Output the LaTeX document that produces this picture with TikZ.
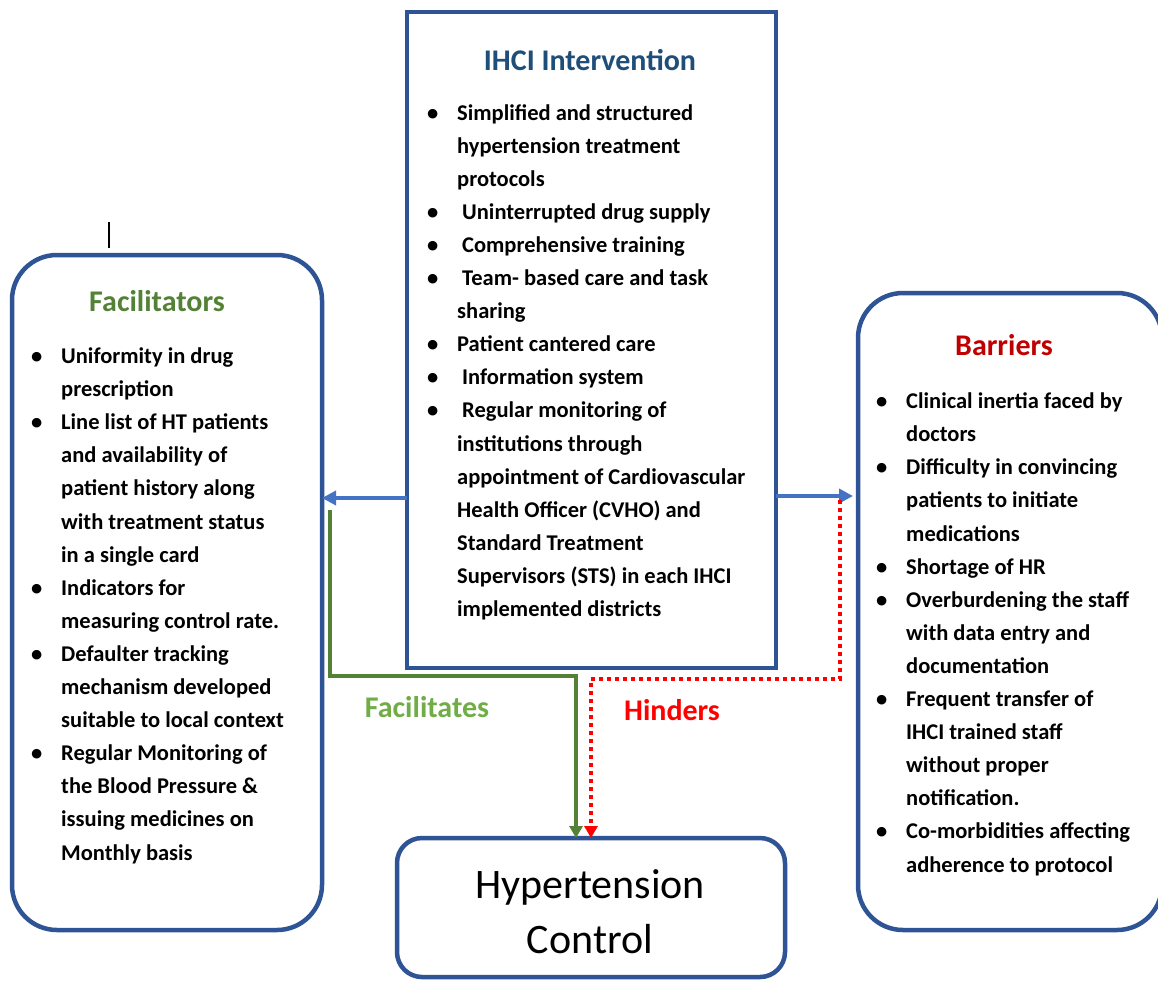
\documentclass[tikz,border=0pt]{standalone}
\usepackage{fontspec}
\setmainfont{Carlito}
\usetikzlibrary{arrows.meta,calc}
\definecolor{boxblue}{HTML}{2F5496}
\definecolor{arrblue}{HTML}{4472C4}
\definecolor{titleblue}{HTML}{1F4E79}
\definecolor{dgreen}{HTML}{538135}
\definecolor{lgreen}{HTML}{70AD47}
\definecolor{dred}{HTML}{C00000}
\definecolor{bred}{HTML}{FF0000}
\newcommand\bl{\makebox[30pt][l]{\textbullet}}
\newcommand\ind{\hspace*{30pt}}
\newcommand\lsp{\hspace*{5pt}}
\tikzset{
  frame/.style={draw=boxblue, line width=4.5pt, outer sep=0pt, inner sep=0pt},
  listtxt/.style={font=\bfseries\fontsize{22.5}{33.1}\selectfont, align=left, anchor=base west, inner sep=0pt},
  ttl/.style={font=\bfseries\fontsize{30}{34}\selectfont, inner sep=0pt},
  bluearr/.style={draw=arrblue, line width=3.5pt, -{Triangle[length=14pt,width=14pt]}},
  grnarr/.style={draw=dgreen, line width=3.5pt, -{Triangle[length=12pt,width=13pt]}},
  redarr/.style={draw=bred, line width=4pt, dash pattern=on 4pt off 4pt, -{Triangle[length=12pt,width=13pt]}},
}
\begin{document}
\begin{tikzpicture}[x=1pt,y=-1pt]
\clip (0,0) rectangle (1158,980);
\fill[white] (0,0) rectangle (1158,980);
% boxes
\node[frame, minimum width=369pt, minimum height=656pt] (top) at (591.5,340) {};
\node[frame, rounded corners=45pt, minimum width=310pt, minimum height=675pt] (lft) at (167,592.5) {};
\node[frame, rounded corners=45pt, minimum width=304pt, minimum height=637pt] (rgt) at (1010,611.5) {};
\node[frame, rounded corners=25pt, minimum width=388pt, minimum height=139pt] (bot) at (591,907.5) {};
% titles
\node[ttl, text=titleblue] (ttop) at (590,60) {IHCI Intervention};
\node[ttl, text=dgreen] (tlft) at (157,301) {Facilitators};
\node[ttl, text=dred] (trgt) at (1004,345) {Barriers};
% lists (anchor is the baseline of the last line)
\node[listtxt] (ltop) at (427,616.5) {%
\bl Simplified and structured\\
\ind hypertension treatment\\
\ind protocols\\
\bl\lsp Uninterrupted drug supply\\
\bl\lsp Comprehensive training\\
\bl\lsp Team- based care and task\\
\ind sharing\\
\bl Patient cantered care\\
\bl\lsp Information system\\
\bl\lsp Regular monitoring of\\
\ind institutions through\\
\ind appointment of Cardiovascular\\
\ind Health Officer (CVHO) and\\
\ind Standard Treatment\\
\ind Supervisors (STS) in each IHCI\\
\ind implemented districts};
\node[listtxt] (llft) at (31,860) {%
\bl Uniformity in drug\\
\ind prescription\\
\bl Line list of HT patients\\
\ind and availability of\\
\ind patient history along\\
\ind with treatment status\\
\ind in a single card\\
\bl Indicators for\\
\ind measuring control rate.\\
\bl Defaulter tracking\\
\ind mechanism developed\\
\ind suitable to local context\\
\bl Regular Monitoring of\\
\ind the Blood Pressure \&\\
\ind issuing medicines on\\
\ind Monthly basis};
\node[listtxt] (lrgt) at (876,872) {%
\bl Clinical inertia faced by\\
\ind doctors\\
\bl Difficulty in convincing\\
\ind patients to initiate\\
\ind medications\\
\bl Shortage of HR\\
\bl Overburdening the staff\\
\ind with data entry and\\
\ind documentation\\
\bl Frequent transfer of\\
\ind IHCI trained staff\\
\ind without proper\\
\ind notification.\\
\bl Co-morbidities affecting\\
\ind adherence to protocol};
% bottom text
\node[font=\fontsize{42}{55}\selectfont, align=center, anchor=base, inner sep=0pt] (tbot) at (590,953) {Hypertension\\Control};
% connectors
\draw[bluearr] ([yshift=-158pt]top.west) -- ([yshift=-158pt]top.west -| lft.east);
\draw[bluearr, shorten >=5pt] ([yshift=-156pt]top.east) -- ([yshift=-156pt]top.east -| rgt.west);
\draw[grnarr] ($(lft.east)+(8,-82.5)$) |- ([xshift=-15pt,yshift=162pt]bot.north) -- ([xshift=-15pt]bot.north);
\draw[redarr] ($(rgt.west)+(-18,-111.5)$) |- ([yshift=159pt]bot.north) -- (bot.north);
% labels
\node[ttl, text=lgreen] (lfac) at (427,707) {Facilitates};
\node[ttl, text=bred] (lhin) at (672,710) {Hinders};
% stray mark
\draw[line width=1.3pt] (109,222) -- (109,248);
\end{tikzpicture}
\end{document}
